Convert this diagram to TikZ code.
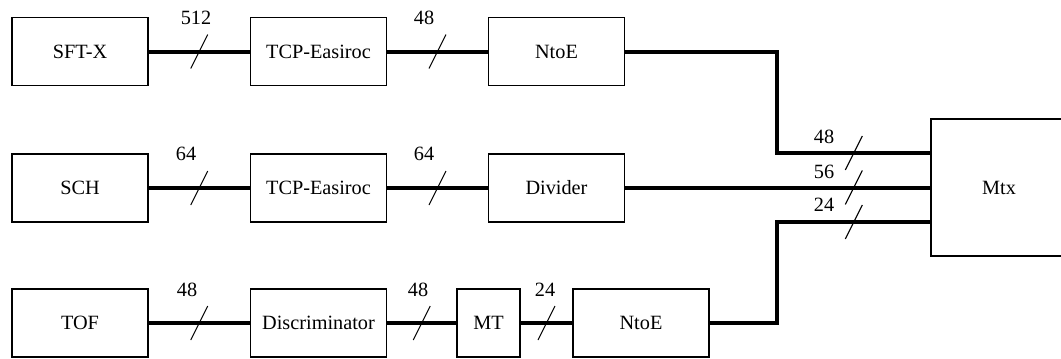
\documentclass[tikz,border=0pt]{standalone}
\usepackage{fontspec}
\setmainfont{Liberation Serif}
\usetikzlibrary{calc}
\begin{document}
\begin{tikzpicture}[x=0.75pt,y=-0.75pt,
  box/.style={draw, line width=1pt, minimum width=102pt, minimum height=51pt, inner sep=0pt, font=\fontsize{15.2}{18}\selectfont},
  bus/.style={line width=3pt},
  slashmark/.style={line width=0.8pt},
  lbl/.style={inner sep=0pt, anchor=base, font=\fontsize{15.2}{18}\selectfont}
]
\useasboundingbox (0,0) rectangle (1061,358);
% row 1
\node[box] (sft) at (80,51.5) {SFT-X};
\node[box] (tcp1) at (318.5,51.5) {TCP-Easiroc};
\node[box] (ntoe1) at (556.5,51.5) {NtoE};
% row 2
\node[box] (sch) at (80,188) {SCH};
\node[box] (tcp2) at (318.5,188) {TCP-Easiroc};
\node[box] (div) at (556.5,188) {Divider};
% row 3
\node[box] (tof) at (80,323) {TOF};
\node[box] (disc) at (318.5,323) {Discriminator};
\node[box, minimum width=47.25pt] (mt) at (488.5,323) {MT};
\node[box] (ntoe3) at (641,323) {NtoE};
% Mtx
\node[box, minimum height=102.75pt] (mtx) at (999,187.5) {Mtx};
\coordinate (m1) at ($(mtx.west)+(0,-34.5)$);
\coordinate (m3) at ($(mtx.west)+(0,34.5)$);

% connectors
\draw[bus] (sft.east) -- (tcp1.west);
\draw[bus] (tcp1.east) -- (ntoe1.west);
\draw[bus] (sch.east) -- (tcp2.west);
\draw[bus] (tcp2.east) -- (div.west);
\draw[bus] (tof.east) -- (disc.west);
\draw[bus] (disc.east) -- (mt.west);
\draw[bus] (mt.east) -- (ntoe3.west);
\draw[bus] (ntoe1.east) -| ($(m1)+(-153,0)$) -- (m1);
\draw[bus] (div.east) -- (div.east -| mtx.west);
\draw[bus] (ntoe3.east) -| ($(m3)+(-153,0)$) -- (m3);

% bus slashes
\foreach \a/\b in {sft/tcp1, tcp1/ntoe1, sch/tcp2, tcp2/div, tof/disc, disc/mt, mt/ntoe3}
  \draw[slashmark] ($(\a.east)!0.5!(\b.west)$) ++(-8.5,17) -- ++(17,-34);
\draw[slashmark] ($(m1)+(-76.5,0)$) ++(-8.5,17) -- ++(17,-34);
\draw[slashmark] ($(mtx.west)+(-76.5,0)$) ++(-8.5,17) -- ++(17,-34);
\draw[slashmark] ($(m3)+(-76.5,0)$) ++(-8.5,17) -- ++(17,-34);

% labels
\node[lbl] (l1) at (196,24) {512};
\node[lbl] (l2) at (424,24) {48};
\node[lbl] (l3) at (186,160) {64};
\node[lbl] (l4) at (424,160) {64};
\node[lbl] (l5) at (187,296) {48};
\node[lbl] (l6) at (418,296) {48};
\node[lbl] (l7) at (545,296) {24};
\node[lbl] (l8) at (824,143) {48};
\node[lbl] (l9) at (824,178) {56};
\node[lbl] (l10) at (824,211) {24};
\end{tikzpicture}
\end{document}
